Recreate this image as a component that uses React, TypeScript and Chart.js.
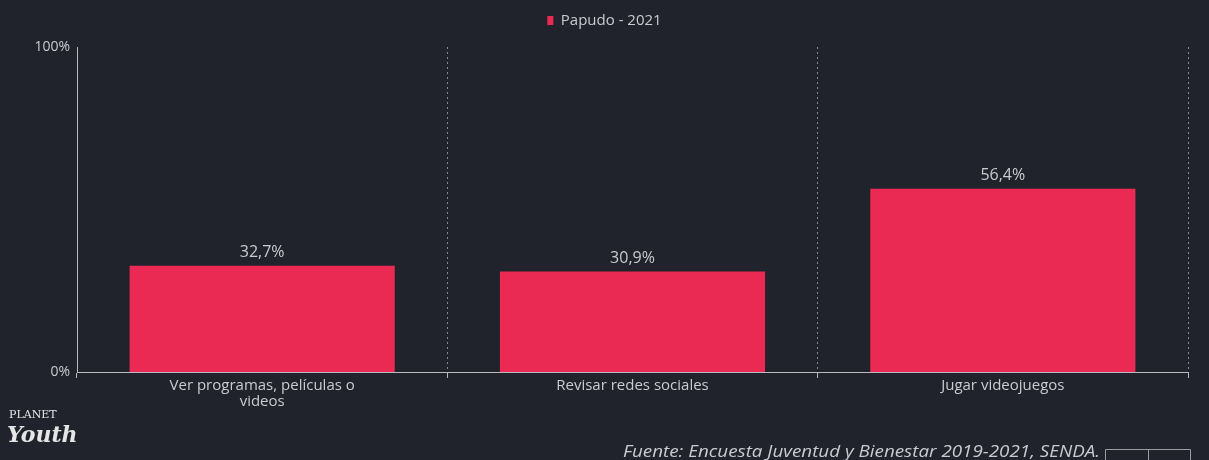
import React, { useEffect, useRef } from "react";
import { Chart, registerables } from "chart.js";

Chart.register(...registerables);

const categories: (string | string[])[] = [
  ["Ver programas, películas o", "videos"],
  "Revisar redes sociales",
  "Jugar videojuegos",
];
const seriesLabel = "Papudo - 2021";
const seriesValues = [32.7, 30.9, 56.4];
const yTicks = [0, 100];
const sourceText = "Fuente: Encuesta Juventud y Bienestar 2019-2021, SENDA.";

const BG = "#20232b";
const BAR = "#ea2a53";
const TEXT = "#c9cbd0";
const FONT = "'Open Sans', sans-serif";

export default function App() {
  const ref = useRef<HTMLCanvasElement | null>(null);

  useEffect(() => {
    document.body.style.margin = "0";
    document.body.style.background = BG;
    const canvas = ref.current!;

    const bgPlugin = {
      id: "bg",
      beforeDraw(chart: any) {
        const { ctx, width, height } = chart;
        ctx.save();
        ctx.fillStyle = BG;
        ctx.fillRect(0, 0, width, height);
        ctx.restore();
      },
    };

    const legendHeight = {
      id: "legendHeight",
      beforeInit(chart: any) {
        const lg = chart.legend;
        if (lg) {
          const orig = lg.fit;
          lg.fit = function () {
            orig.call(this);
            this.height = 47;
          };
        }
      },
    };

    const valueLabels = {
      id: "valueLabels",
      afterDatasetsDraw(chart: any) {
        const { ctx } = chart;
        const meta = chart.getDatasetMeta(0);
        ctx.save();
        ctx.fillStyle = TEXT;
        ctx.font = "16px " + FONT;
        ctx.textAlign = "center";
        ctx.textBaseline = "bottom";
        meta.data.forEach((el: any, i: number) => {
          const v = chart.data.datasets[0].data[i] as number;
          ctx.fillText(v.toFixed(1).replace(".", ",") + "%", el.x, el.y - 5);
        });
        ctx.restore();
      },
    };

    const footer = {
      id: "footer",
      afterDraw(chart: any) {
        const { ctx } = chart;
        ctx.save();
        ctx.fillStyle = "#e6e6e6";
        ctx.textBaseline = "alphabetic";
        ctx.textAlign = "left";
        ctx.font = "11px 'DejaVu Serif', serif";
        ctx.fillText("PLANET", 9, 418);
        ctx.font = "italic bold 22px 'DejaVu Serif', serif";
        ctx.fillText("Youth", 7, 442);
        ctx.fillStyle = TEXT;
        ctx.font = "italic 16px " + FONT;
        const w = ctx.measureText(sourceText).width;
        ctx.save();
        ctx.translate(623, 457);
        ctx.scale(477 / w, 1);
        ctx.fillText(sourceText, 0, 0);
        ctx.restore();
        ctx.strokeStyle = "#9a9ca2";
        ctx.lineWidth = 1;
        ctx.beginPath();
        ctx.moveTo(1105.5, 460);
        ctx.lineTo(1105.5, 449.5);
        ctx.lineTo(1190.5, 449.5);
        ctx.lineTo(1190.5, 460);
        ctx.moveTo(1148.5, 449.5);
        ctx.lineTo(1148.5, 460);
        ctx.stroke();
        ctx.restore();
      },
    };

    const chart = new Chart(canvas, {
      type: "bar",
      data: {
        labels: categories,
        datasets: [
          {
            label: seriesLabel,
            data: seriesValues,
            backgroundColor: BAR,
            borderWidth: 0,
            barPercentage: 0.716,
            categoryPercentage: 1,
          },
        ],
      },
      options: {
        responsive: false,
        animation: false,
        layout: { padding: 0 },
        plugins: {
          legend: {
            display: true,
            position: "top",
            labels: {
              color: TEXT,
              boxWidth: 6,
              boxHeight: 9,
              padding: 13,
              font: { size: 15, family: FONT },
            },
          },
          tooltip: { enabled: false },
        },
        scales: {
          x: {
            afterFit(scale: any) {
              scale.height = 88;
            },
            grid: {
              display: true,
              offset: true,
              color: (ctx: any) => (ctx.index === 0 ? "rgba(0,0,0,0)" : "rgba(205,205,210,0.6)"),
              tickColor: "#b8bac0",
              tickLength: 6,
              drawOnChartArea: true,
            },
            border: { display: true, color: "#b8bac0", width: 1, dash: [2, 3] },
            ticks: {
              color: TEXT,
              padding: 0,
              maxRotation: 0,
              autoSkip: false,
              font: { size: 15, family: FONT, lineHeight: 1.05 },
            },
          },
          y: {
            min: 0,
            max: 100,
            afterFit(scale: any) {
              scale.width = 77;
            },
            afterBuildTicks(scale: any) {
              scale.ticks = yTicks.map((v) => ({ value: v }));
            },
            grid: { display: false, drawTicks: false },
            border: { display: true, color: "#b8bac0", width: 1 },
            ticks: {
              color: TEXT,
              padding: 7,
              font: { size: 14, family: FONT },
              callback: (v: any) => v + "%",
            },
          },
          yr: {
            position: "right",
            display: true,
            afterFit(scale: any) {
              scale.width = 21;
            },
            grid: { display: false, drawTicks: false },
            border: { display: false },
            ticks: { display: false },
          },
        },
      },
      plugins: [bgPlugin, legendHeight, valueLabels, footer],
    });

    return () => chart.destroy();
  }, []);

  return (
    <div style={{ width: 1209, height: 460, background: BG }}>
      <canvas ref={ref} width={1209} height={460} style={{ display: "block" }} />
    </div>
  );
}
